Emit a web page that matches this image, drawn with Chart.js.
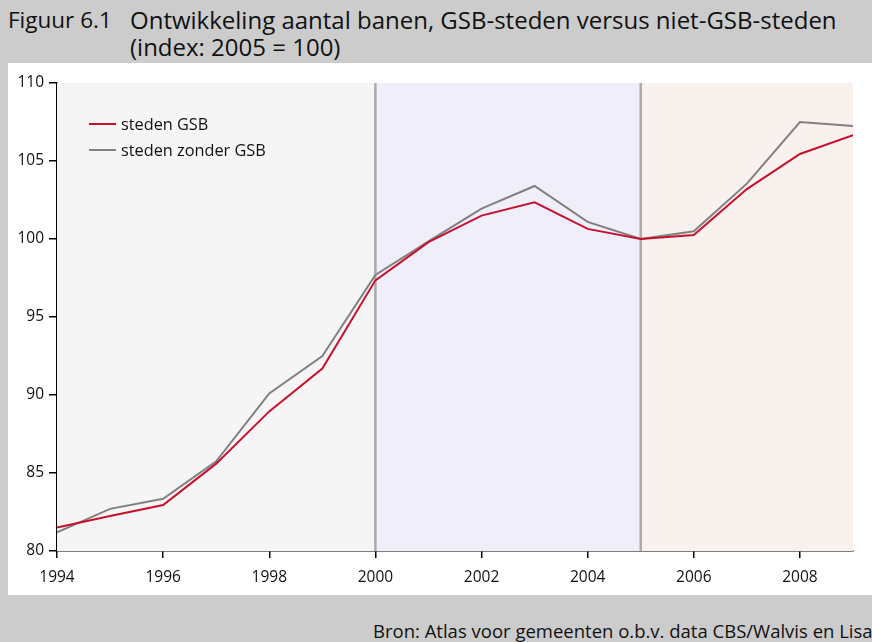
<!DOCTYPE html>
<html>
<head>
<meta charset="utf-8">
<script src="https://cdn.jsdelivr.net/npm/chart.js@4.4.1/dist/chart.umd.min.js"></script>
<style>
  body { margin: 0; width: 872px; height: 642px; overflow: hidden; background: #fff; font-family: 'Open Sans', sans-serif; }
  #frame { position: absolute; left: 0; top: 0; width: 872px; height: 642px; background: #cccccc; }
  .title { position: absolute; font-size: 24px; line-height: 30px; color: #111; white-space: nowrap; }
  #box { position: absolute; left: 8px; top: 63px; width: 864px; height: 532px; background: #fff; }
  #src { position: absolute; left: 373px; top: 619px; font-size: 18.5px; line-height: 24px; color: #111; white-space: nowrap; }
</style>
</head>
<body>
<div id="frame"></div>
<div class="title" style="left:8px;top:5px;font-size:22.5px;">Figuur 6.1</div>
<div class="title" style="left:130px;top:5px;">Ontwikkeling aantal banen, GSB-steden versus niet-GSB-steden</div>
<div class="title" style="left:130px;top:32px;">(index: 2005 = 100)</div>
<div id="box"><canvas id="myChart" width="864" height="532"></canvas></div>
<div id="src">Bron: Atlas voor gemeenten o.b.v. data CBS/Walvis en Lisa</div>
<script>
const years = [1994, 1995, 1996, 1997, 1998, 1999, 2000, 2001, 2002, 2003, 2004, 2005, 2006, 2007, 2008, 2009];
const stedenGSB = [81.5, 82.25, 82.95, 85.6, 88.95, 91.7, 97.35, 99.8, 101.5, 102.35, 100.65, 100, 100.25, 103.2, 105.45, 106.65];
const stedenZonderGSB = [81.2, 82.7, 83.35, 85.75, 90.1, 92.5, 97.7, 99.85, 101.95, 103.4, 101.1, 100, 100.5, 103.55, 107.5, 107.25];
const periods = [1994, 2000, 2005, 2009];
const periodColors = ['#f5f5f5', '#f0eef9', '#f9f1ee'];
const dividers = [2000, 2005];

const toPoints = arr => arr.map((v, i) => ({ x: years[i], y: v }));

const bandsPlugin = {
	id: 'bands',
	beforeDatasetsDraw: function (chart) {
		const ctx = chart.ctx;
		const xs = chart.scales.x;
		const area = chart.chartArea;
		ctx.save();
		for (let i = 0; i < periodColors.length; i++) {
			const x0 = xs.getPixelForValue(periods[i]);
			const x1 = xs.getPixelForValue(periods[i + 1]);
			ctx.fillStyle = periodColors[i];
			ctx.fillRect(x0, area.top, x1 - x0, area.bottom - area.top);
		}
		ctx.strokeStyle = '#aaaaaa';
		ctx.lineWidth = 2.5;
		dividers.forEach(d => {
			const x = xs.getPixelForValue(d);
			ctx.beginPath();
			ctx.moveTo(x, area.top);
			ctx.lineTo(x, area.bottom);
			ctx.stroke();
		});
		ctx.restore();
	}
};

const legendPlugin = {
	id: 'innerLegend',
	afterDatasetsDraw: function (chart) {
		const ctx = chart.ctx;
		const area = chart.chartArea;
		ctx.save();
		ctx.font = '16.3px "Open Sans"';
		ctx.textBaseline = 'middle';
		chart.data.datasets.forEach((ds, i) => {
			const y = area.top + 41 + i * 26;
			ctx.strokeStyle = ds.borderColor;
			ctx.lineWidth = 2;
			ctx.beginPath();
			ctx.moveTo(area.left + 32, y);
			ctx.lineTo(area.left + 59, y);
			ctx.stroke();
			ctx.fillStyle = '#111';
			ctx.fillText(ds.label, area.left + 64, y + 1);
		});
		ctx.restore();
	}
};

const config = {
	type: 'line',
	data: {
		datasets: [
			{
				label: 'steden GSB',
				data: toPoints(stedenGSB),
				borderColor: '#c8102e',
				borderWidth: 2,
				pointRadius: 0,
				fill: false,
			},
			{
				label: 'steden zonder GSB',
				data: toPoints(stedenZonderGSB),
				borderColor: '#808080',
				borderWidth: 2,
				pointRadius: 0,
				fill: false,
			}
		]
	},
	options: {
		responsive: false,
		animation: false,
		layout: { padding: { top: 20, right: 19, left: 0, bottom: 0 } },
		plugins: {
			legend: { display: false },
			tooltip: { enabled: false },
		},
		scales: {
			x: {
				type: 'linear',
				min: 1994,
				max: 2009,
				afterBuildTicks: function (scale) {
					scale.ticks = [1994, 1996, 1998, 2000, 2002, 2004, 2006, 2008].map(v => ({ value: v }));
				},
				afterFit: function (scale) { scale.height = 44; },
				grid: { drawOnChartArea: false, drawTicks: true, tickLength: 7, color: '#000', lineWidth: 1.5 },
				border: { display: true, color: '#000', width: 1.5 },
				ticks: {
					color: '#111',
					font: { family: 'Open Sans', size: 15.5 },
					padding: 10,
					maxRotation: 0,
					callback: v => String(v),
				}
			},
			y: {
				min: 80,
				max: 110,
				afterFit: function (scale) { scale.width = 49; },
				grid: { drawOnChartArea: false, drawTicks: true, tickLength: 8, color: '#000', lineWidth: 1.5 },
				border: { display: true, color: '#000', width: 1.5 },
				ticks: {
					stepSize: 5,
					color: '#111',
					font: { family: 'Open Sans', size: 15.5 },
					padding: 5,
				}
			}
		}
	},
	plugins: [bandsPlugin, legendPlugin]
};

const ctx = document.getElementById('myChart').getContext('2d');
const myChart = new Chart(ctx, config);
</script>
</body>
</html>
